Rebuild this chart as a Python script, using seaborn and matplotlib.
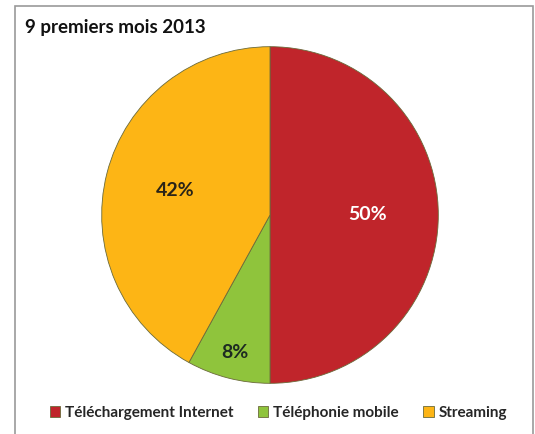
import matplotlib
matplotlib.use("Agg")
import matplotlib.pyplot as plt
from matplotlib.patches import Rectangle
import seaborn as sns

labels = ["Téléchargement Internet", "Téléphonie mobile", "Streaming"]
values = [50, 8, 42]
colors = ["#C0252B", "#8FC43C", "#FDB515"]
text_colors = ["white", "#1d2a22", "#2a2418"]
title = "9 premiers mois 2013"

sns.set_style("white")
plt.rcParams["font.family"] = ["Lato", "DejaVu Sans"]

fig = plt.figure(figsize=(5.35, 4.34), dpi=100)

# frame around the chart
fig.add_artist(Rectangle((15 / 535, -0.05), 518 / 535, 1 - 6 / 434 + 0.05,
                         transform=fig.transFigure, fill=False,
                         edgecolor="#9a9a9a", linewidth=1.2))

ax = fig.add_axes([100 / 535, 49 / 434, 340 / 535, 340 / 434])
wedges, texts, autotexts = ax.pie(
    values, colors=colors, startangle=90, counterclock=False,
    autopct="%d%%", pctdistance=0.58,
    wedgeprops=dict(linewidth=0.6, edgecolor="#6a6a3a"),
    textprops=dict(fontsize=14, fontweight="bold"),
)
for t, c in zip(autotexts, text_colors):
    t.set_color(c)
# push the small slice label outward
x, y = autotexts[1].get_position()
autotexts[1].set_position((x * 1.45, y * 1.45))
ax.set_xlim(-1.01, 1.01)
ax.set_ylim(-1.01, 1.01)
ax.set_aspect("equal")

fig.text(25 / 535, 1 - 28 / 434, title, fontsize=13.5, fontweight="bold",
         va="center", ha="left", color="#111111")

fig.legend(wedges, labels, loc="center", bbox_to_anchor=(0.52, 1 - 413 / 434),
           ncol=3, frameon=False, handlelength=0.7, handleheight=0.7,
           handletextpad=0.3, columnspacing=1.6,
           prop=dict(size=11, weight="bold"))

fig.savefig("out.png", dpi=100)
